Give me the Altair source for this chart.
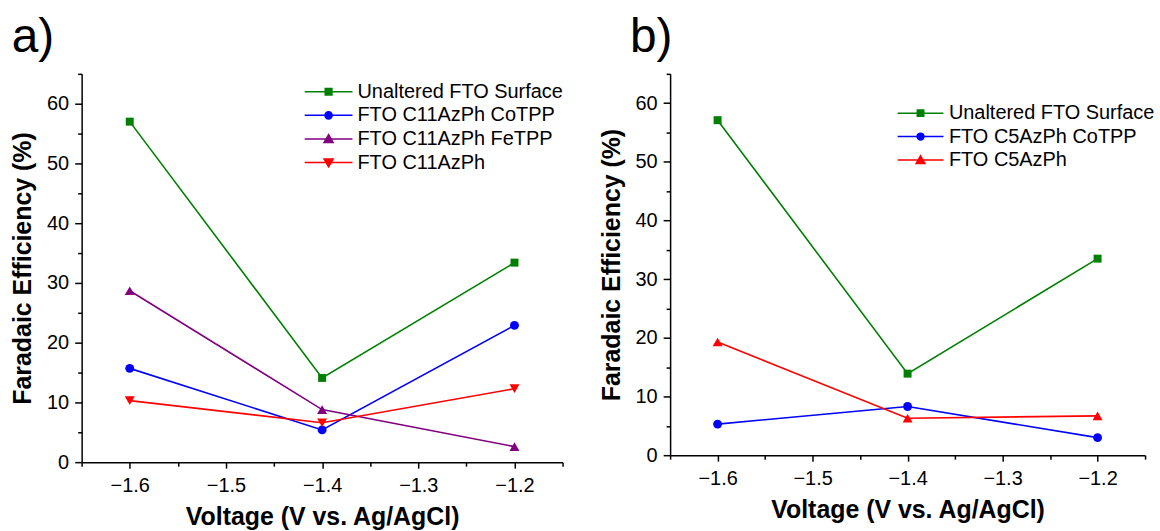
import altair as alt
import pandas as pd

# ---------------- data ----------------
voltage = [-1.6, -1.4, -1.2]

a_series = ["Unaltered FTO Surface", "FTO C11AzPh CoTPP", "FTO C11AzPh FeTPP", "FTO C11AzPh"]
a_unaltered = [57.0, 14.1, 33.4]
a_cotpp = [15.7, 5.4, 22.9]
a_fetpp = [28.7, 8.8, 2.6]
a_c11 = [10.3, 6.6, 12.3]
a_colors = ["#008000", "#0000FF", "#800080", "#FF0000"]
a_markers = ["square", "circle", "triangle-up", "triangle-down"]

b_series = ["Unaltered FTO Surface", "FTO C5AzPh CoTPP", "FTO C5AzPh"]
b_unaltered = [57.1, 13.9, 33.5]
b_cotpp = [5.3, 8.3, 3.0]
b_c5 = [19.3, 6.3, 6.7]
b_colors = ["#008000", "#0000FF", "#FF0000"]
b_markers = ["square", "circle", "triangle-up"]

x_major = [-1.6, -1.5, -1.4, -1.3, -1.2]
x_minor = [-1.65, -1.55, -1.45, -1.35, -1.25, -1.15]
y_major = [0, 10, 20, 30, 40, 50, 60]
y_minor = [5, 15, 25, 35, 45, 55, 65]

marker_size = {"square": 64, "circle": 80, "triangle-up": 100, "triangle-down": 100}

# legend glyphs: a short line with the marker in the middle
LINE = "M-2,0H2"
legend_glyph = {
    "square": LINE + "M-0.28,-0.28H0.28V0.28H-0.28Z",
    "circle": LINE + "M0.3,0A0.3,0.3 0 1,1 -0.3,0A0.3,0.3 0 1,1 0.3,0Z",
    "triangle-up": LINE + "M0,-0.36L0.38,0.3L-0.38,0.3Z",
    "triangle-down": LINE + "M0,0.36L0.38,-0.3L-0.38,-0.3Z",
}

FONT = "Liberation Sans"


def make_df(series, values):
    rows = []
    for s, vals in zip(series, values):
        for v, fe in zip(voltage, vals):
            rows.append({"series": s, "voltage": v, "fe": fe})
    return pd.DataFrame(rows)


def panel(series, values, colors, markers, width, height, label, label_dx,
          legend_x, legend_y, sym_size, row_pad):
    df = make_df(series, values)
    base = alt.Chart(df)
    xs = alt.Scale(domain=[-1.65, -1.15], nice=False, zero=False)
    ys = alt.Scale(domain=[0, 65], nice=False, zero=False)

    x_main = alt.X("voltage:Q", scale=xs, axis=alt.Axis(
        values=x_major, format=".1f", title="Voltage (V vs. Ag/AgCl)",
        tickSize=6, labelPadding=7, titlePadding=10, orient="bottom"))
    y_main = alt.Y("fe:Q", scale=ys, axis=alt.Axis(
        values=y_major, format="d", title="Faradaic Efficiency (%)",
        tickSize=7, labelPadding=6, titlePadding=11, orient="left"))
    x_plain = alt.X("voltage:Q", scale=xs, axis=None)
    y_plain = alt.Y("fe:Q", scale=ys, axis=None)

    layers = []
    # minor ticks (same scales, tick-only axes), invisible marks
    layers.append(
        base.mark_point(opacity=0).encode(
            x=alt.X("voltage:Q", scale=xs, axis=alt.Axis(
                values=x_minor, labels=False, domain=False, title=None, tickSize=4, orient="bottom")),
            y=alt.Y("fe:Q", scale=ys, axis=alt.Axis(
                values=y_minor, labels=False, domain=False, title=None, tickSize=4, orient="left")),
        )
    )
    for i, (s, c, m) in enumerate(zip(series, colors, markers)):
        sub = base.transform_filter(alt.datum.series == s)
        layers.append(
            sub.mark_line(strokeWidth=1.6, color=c).encode(
                x=x_main if i == 0 else x_plain, y=y_main if i == 0 else y_plain)
        )
    for s, c, m in zip(series, colors, markers):
        sub = base.transform_filter(alt.datum.series == s)
        layers.append(
            sub.mark_point(filled=True, opacity=1, shape=m, size=marker_size[m], color=c)
            .encode(x=x_plain, y=y_plain)
        )

    leg = alt.Legend(orient="none", legendX=legend_x, legendY=legend_y, title=None,
                     labelFont=FONT, labelFontSize=20, labelColor="black", labelLimit=500,
                     symbolSize=sym_size, symbolStrokeWidth=1.5, labelOffset=16,
                     rowPadding=row_pad, padding=0)
    # invisible (size 0) layer that only carries the legend
    layers.append(
        base.mark_point(filled=True, opacity=1, strokeWidth=1.5, size=0).encode(
            x=x_plain, y=y_plain,
            fill=alt.Fill("series:N", scale=alt.Scale(domain=series, range=colors), legend=leg),
            stroke=alt.Stroke("series:N", scale=alt.Scale(domain=series, range=colors), legend=leg),
            shape=alt.Shape("series:N", scale=alt.Scale(domain=series, range=[legend_glyph[m] for m in markers]),
                            legend=leg),
        )
    )

    return alt.layer(*layers).resolve_axis(x="independent", y="independent").properties(
        width=width, height=height,
        title=alt.TitleParams(label, anchor="start", frame="bounds", fontSize=48, font=FONT,
                              fontWeight="normal", color="black", baseline="alphabetic",
                              offset=-27, dx=label_dx),
    )


left = panel(a_series, [a_unaltered, a_cotpp, a_fetpp, a_c11], a_colors, a_markers,
             483, 390, "a)", 1, 235, 5, 576, 0.7)
right = panel(b_series, [b_unaltered, b_cotpp, b_c5], b_colors, b_markers,
              477, 383, "b)", 31, 239, 27, 529, 0.5)

chart = alt.hconcat(left, right, spacing=108, bounds="flush").resolve_scale(
    fill="independent", stroke="independent", shape="independent",
    x="independent", y="independent"
).properties(
    padding={"left": 10, "top": 13, "right": 5, "bottom": 5},
    background="white",
).configure_view(stroke=None).configure_axis(
    grid=False, labelFont=FONT, labelFontSize=20, labelColor="black",
    titleFont=FONT, titleFontSize=25, titleFontWeight="bold", titleColor="black",
    domainColor="black", tickColor="black", domainWidth=1.5, tickWidth=1.5,
    labelFlush=False, labelOverlap=False,
)

chart.save("out.html", embed_options={"renderer": "svg", "actions": False})
